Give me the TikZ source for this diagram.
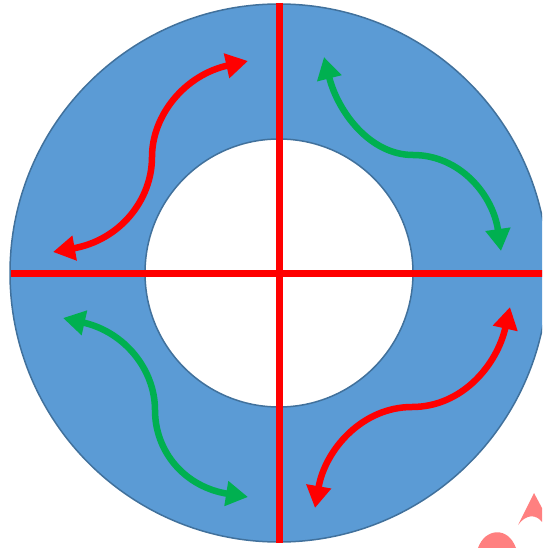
\documentclass[tikz,border=0pt]{standalone}
\usetikzlibrary{arrows.meta}
\definecolor{ringblue}{RGB}{91,155,213}
\definecolor{ringedge}{RGB}{65,113,156}
\definecolor{myred}{RGB}{255,0,0}
\definecolor{mygreen}{RGB}{0,176,80}
\definecolor{wmpink}{RGB}{255,128,128}
\begin{document}
\begin{tikzpicture}[x=1pt,y=-1pt,
  ring/.style={fill=ringblue,draw=ringedge,line width=1.5pt},
  hole/.style={fill=white,draw=ringedge,line width=1.5pt},
  axisline/.style={draw=myred,line width=7pt},
  dblarrow/.style={line width=6.5pt,{Triangle[width=24pt,length=22pt]}-{Triangle[width=24pt,length=22pt]}}]
\useasboundingbox (0,0) rectangle (542,548);
\clip (0,0) rectangle (542,548);
\coordinate (c) at (279,273);
\draw[ring] (c) circle[radius=269pt];
\draw[hole] (c) circle[radius=134pt];
% axes
\coordinate (top) at (279,3);
\coordinate (bot) at (279,543);
\coordinate (lft) at (11,273);
\coordinate (rgt) at (548,273);
\draw[axisline] (top) -- (bot);
\draw[axisline] (lft) -- (rgt);
% arrow end points
\coordinate (tlA) at (248,61);
\coordinate (tlB) at (53,252);
\coordinate (trA) at (324,57);
\coordinate (trB) at (501,251);
\coordinate (blA) at (63,318);
\coordinate (blB) at (248,497);
\coordinate (brA) at (510,307);
\coordinate (brB) at (315,508);
\draw[dblarrow,myred] (tlA) .. controls (185,75) and (152,115) .. (152,157)
  .. controls (152,200) and (120,240) .. (tlB);
\draw[dblarrow,mygreen] (trA) .. controls (338,112) and (370,155) .. (413,155)
  .. controls (460,155) and (493,195) .. (trB);
\draw[dblarrow,mygreen] (blA) .. controls (125,332) and (155,370) .. (155,410)
  .. controls (155,452) and (185,487) .. (blB);
\draw[dblarrow,myred] (brA) .. controls (497,365) and (462,407) .. (412,407)
  .. controls (362,407) and (325,450) .. (brB);
% watermark fragments
\fill[wmpink] (534,493) -- (518,525) .. controls (526,514) and (536,514) .. (542,522) -- (542,508) -- cycle;
\fill[wmpink] (478,548) .. controls (485,528) and (508,526) .. (516,548) -- cycle;
\end{tikzpicture}
\end{document}
